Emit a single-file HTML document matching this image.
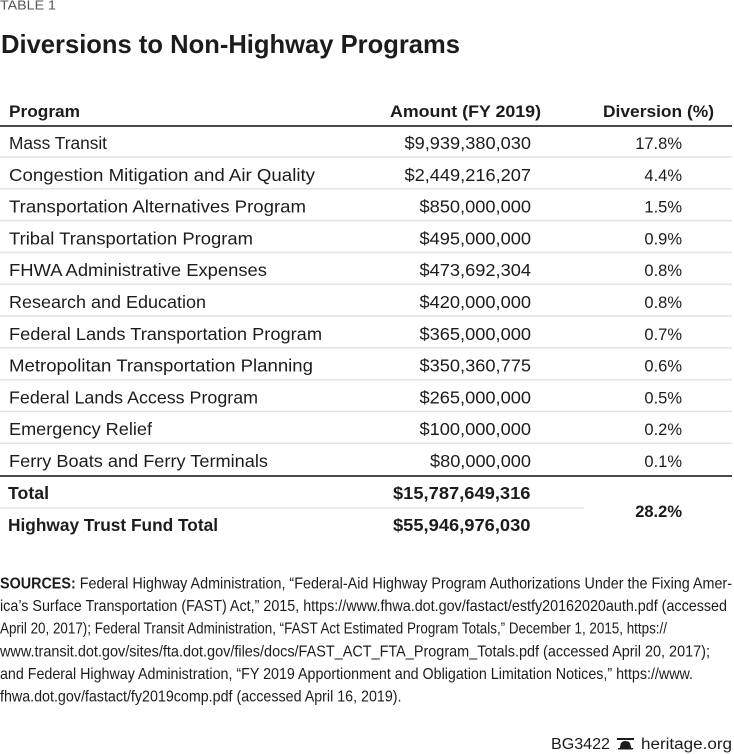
<!DOCTYPE html>
<html><head><meta charset="utf-8"><style>
html,body{margin:0;padding:0;background:#fff;}
svg{display:block;}
text{font-family:"Liberation Sans",sans-serif;fill:#1c1c1c;}
.b{font-weight:bold;}
.n{font-family:"Liberation Sans Narrow","Liberation Sans",sans-serif;}
</style></head><body>
<svg width="734" height="754" viewBox="0 0 734 754" xmlns="http://www.w3.org/2000/svg">
<rect width="734" height="754" fill="#fff"/>
<text x="0" y="9.5" font-size="12.5" fill="#555" style="fill:#555" textLength="56" lengthAdjust="spacingAndGlyphs">TABLE 1</text>
<text class="b" x="1" y="53" font-size="26" textLength="459" lengthAdjust="spacingAndGlyphs">Diversions to Non-Highway Programs</text>

<!-- header -->
<text class="b" x="9" y="117" font-size="17" textLength="71" lengthAdjust="spacingAndGlyphs">Program</text>
<text class="b" x="390" y="117" font-size="17" textLength="151" lengthAdjust="spacingAndGlyphs">Amount (FY 2019)</text>
<text class="b" x="603" y="117" font-size="17" textLength="111" lengthAdjust="spacingAndGlyphs">Diversion (%)</text>
<rect x="0" y="125" width="732" height="2" fill="#4a4a4a"/>

<!-- separators -->
<g fill="#e4e4e4">
<rect x="0" y="156.3" width="732" height="1.5"/>
<rect x="0" y="188.1" width="732" height="1.5"/>
<rect x="0" y="219.9" width="732" height="1.5"/>
<rect x="0" y="251.7" width="732" height="1.5"/>
<rect x="0" y="283.5" width="732" height="1.5"/>
<rect x="0" y="315.3" width="732" height="1.5"/>
<rect x="0" y="347.1" width="732" height="1.5"/>
<rect x="0" y="378.9" width="732" height="1.5"/>
<rect x="0" y="410.7" width="732" height="1.5"/>
<rect x="0" y="442.5" width="732" height="1.5"/>
</g>
<rect x="0" y="475" width="732" height="2" fill="#4a4a4a"/>
<rect x="0" y="507" width="584" height="2" fill="#ececec"/>

<!-- rows -->
<g font-size="17.5">
<text x="9" y="149" textLength="98" lengthAdjust="spacingAndGlyphs">Mass Transit</text>
<text x="9" y="180.8" textLength="306" lengthAdjust="spacingAndGlyphs">Congestion Mitigation and Air Quality</text>
<text x="9" y="212.6" textLength="297" lengthAdjust="spacingAndGlyphs">Transportation Alternatives Program</text>
<text x="9" y="244.4" textLength="244" lengthAdjust="spacingAndGlyphs">Tribal Transportation Program</text>
<text x="9" y="276.2" textLength="258" lengthAdjust="spacingAndGlyphs">FHWA Administrative Expenses</text>
<text x="9" y="308" textLength="197" lengthAdjust="spacingAndGlyphs">Research and Education</text>
<text x="9" y="339.8" textLength="313" lengthAdjust="spacingAndGlyphs">Federal Lands Transportation Program</text>
<text x="9" y="371.6" textLength="304" lengthAdjust="spacingAndGlyphs">Metropolitan Transportation Planning</text>
<text x="9" y="403.4" textLength="249" lengthAdjust="spacingAndGlyphs">Federal Lands Access Program</text>
<text x="9" y="435.2" textLength="143" lengthAdjust="spacingAndGlyphs">Emergency Relief</text>
<text x="9" y="467" textLength="259" lengthAdjust="spacingAndGlyphs">Ferry Boats and Ferry Terminals</text>

<text x="404.5" y="149" textLength="126.5" lengthAdjust="spacingAndGlyphs">$9,939,380,030</text>
<text x="404.5" y="180.8" textLength="126.5" lengthAdjust="spacingAndGlyphs">$2,449,216,207</text>
<text x="419.5" y="212.6" textLength="111.5" lengthAdjust="spacingAndGlyphs">$850,000,000</text>
<text x="419.5" y="244.4" textLength="111.5" lengthAdjust="spacingAndGlyphs">$495,000,000</text>
<text x="419.5" y="276.2" textLength="111.5" lengthAdjust="spacingAndGlyphs">$473,692,304</text>
<text x="419.5" y="308" textLength="111.5" lengthAdjust="spacingAndGlyphs">$420,000,000</text>
<text x="419.5" y="339.8" textLength="111.5" lengthAdjust="spacingAndGlyphs">$365,000,000</text>
<text x="419.5" y="371.6" textLength="111.5" lengthAdjust="spacingAndGlyphs">$350,360,775</text>
<text x="419.5" y="403.4" textLength="111.5" lengthAdjust="spacingAndGlyphs">$265,000,000</text>
<text x="419.5" y="435.2" textLength="111.5" lengthAdjust="spacingAndGlyphs">$100,000,000</text>
<text x="430" y="467" textLength="101" lengthAdjust="spacingAndGlyphs">$80,000,000</text>
</g>
<g font-size="16.5" text-anchor="end">
<text x="682" y="149">17.8%</text>
<text x="682" y="180.8">4.4%</text>
<text x="682" y="212.6">1.5%</text>
<text x="682" y="244.4">0.9%</text>
<text x="682" y="276.2">0.8%</text>
<text x="682" y="308">0.8%</text>
<text x="682" y="339.8">0.7%</text>
<text x="682" y="371.6">0.6%</text>
<text x="682" y="403.4">0.5%</text>
<text x="682" y="435.2">0.2%</text>
<text x="682" y="467">0.1%</text>
</g>

<!-- totals -->
<g font-size="17.5" class="b">
<text class="b" x="8" y="499" textLength="41" lengthAdjust="spacingAndGlyphs">Total</text>
<text class="b" x="8" y="531" textLength="210" lengthAdjust="spacingAndGlyphs">Highway Trust Fund Total</text>
<text class="b" x="393" y="499" textLength="137.5" lengthAdjust="spacingAndGlyphs">$15,787,649,316</text>
<text class="b" x="393" y="531" textLength="137.5" lengthAdjust="spacingAndGlyphs">$55,946,976,030</text>
<text class="b" x="682" y="517" font-size="16.5" text-anchor="end">28.2%</text>
</g>

<!-- sources -->
<g font-size="16" class="n">
<text class="n" x="0" y="588.5" textLength="732" lengthAdjust="spacingAndGlyphs"><tspan font-weight="bold">SOURCES:</tspan> Federal Highway Administration, “Federal-Aid Highway Program Authorizations Under the Fixing Amer-</text>
<text class="n" x="0" y="611.1" textLength="727" lengthAdjust="spacingAndGlyphs">ica’s Surface Transportation (FAST) Act,” 2015, https://www.fhwa.dot.gov/fastact/estfy20162020auth.pdf (accessed</text>
<text class="n" x="0" y="633.7" textLength="667" lengthAdjust="spacingAndGlyphs">April 20, 2017); Federal Transit Administration, “FAST Act Estimated Program Totals,” December 1, 2015, https://</text>
<text class="n" x="0" y="656.3" textLength="710" lengthAdjust="spacingAndGlyphs">www.transit.dot.gov/sites/fta.dot.gov/files/docs/FAST_ACT_FTA_Program_Totals.pdf (accessed April 20, 2017);</text>
<text class="n" x="0" y="678.9" textLength="693" lengthAdjust="spacingAndGlyphs">and Federal Highway Administration, “FY 2019 Apportionment and Obligation Limitation Notices,” https://www.</text>
<text class="n" x="0" y="701.5" textLength="401.5" lengthAdjust="spacingAndGlyphs">fhwa.dot.gov/fastact/fy2019comp.pdf (accessed April 16, 2019).</text>
</g>

<!-- footer -->
<text x="551" y="749" font-size="15.5" textLength="59" lengthAdjust="spacingAndGlyphs">BG3422</text>
<g fill="#1c1c1c">
<rect x="617" y="738" width="17" height="2"/>
<path d="M619.5 749 L620.5 745 Q621 741 625.5 741 Q630 741 630.5 745 L631.5 749 Z"/>
<rect x="618" y="748" width="15" height="1.5"/>
</g>
<text x="641" y="749" font-size="15.5" textLength="91" lengthAdjust="spacingAndGlyphs">heritage.org</text>
</svg>
</body></html>
